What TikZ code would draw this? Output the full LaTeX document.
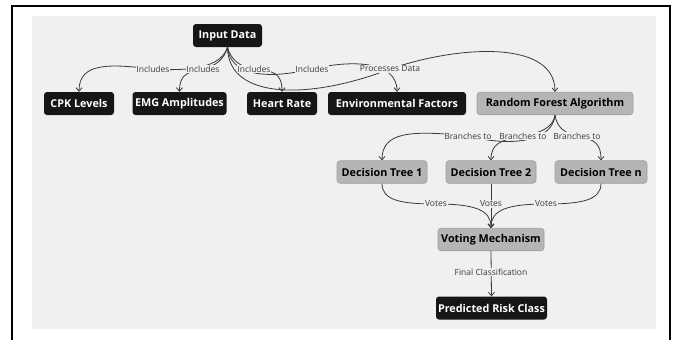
\documentclass[tikz,border=0pt]{standalone}
\usepackage{fontspec}
\setmainfont{Open Sans}
\usetikzlibrary{arrows.meta}
\definecolor{bg}{HTML}{F0F0F0}
\definecolor{darkfill}{HTML}{161616}
\definecolor{lightfill}{HTML}{B5B5B5}
\definecolor{lightbd}{HTML}{9E9E9E}
\definecolor{edgec}{HTML}{3A3A3A}
\begin{document}
\begin{tikzpicture}[x=1pt,y=-1pt,
  darkbox/.style={rectangle, rounded corners=3pt, fill=darkfill, text=white,
    font=\fontsize{10.8}{12}\selectfont\bfseries, minimum height=23pt, inner sep=0pt},
  lightbox/.style={rectangle, rounded corners=3pt, fill=lightfill, draw=lightbd,
    line width=0.6pt, text=black,
    font=\fontsize{10.8}{12}\selectfont\bfseries, minimum height=22.5pt, inner sep=0pt},
  edge/.style={draw=edgec, line width=0.8pt, -{Straight Barb[length=3.5pt,width=6pt]}},
  lbl/.style={fill=bg, inner sep=0.6pt, font=\fontsize{8.5}{10}\selectfont, text=edgec}]
\useasboundingbox (0,0) rectangle (675,340);
% frame and background
\draw[line width=2pt] (12,6) rectangle (670,360);
\fill[bg] (32,16) rectangle (656,329);

% nodes
\node[darkbox, minimum width=69pt]  (in)  at (227.5,35.5) {Input Data};
\node[darkbox, minimum width=70pt]  (cpk) at (79,103.5)   {CPK Levels};
\node[darkbox, minimum width=94pt]  (emg) at (179.5,103.5) {EMG Amplitudes};
\node[darkbox, minimum width=70pt]  (hr)  at (282,103.5)  {Heart Rate};
\node[darkbox, minimum width=138pt] (env) at (397,103.5)  {Environmental Factors};
\node[lightbox, minimum width=156pt] (rfa) at (555,103.5) {Random Forest Algorithm};
\node[lightbox, minimum width=90pt] (dt1) at (382,172)    {Decision Tree 1};
\node[lightbox, minimum width=90pt] (dt2) at (491,172)    {Decision Tree 2};
\node[lightbox, minimum width=92pt] (dtn) at (601,172)    {Decision Tree n};
\node[lightbox, minimum width=106pt] (vm) at (491,239.5)  {Voting Mechanism};
\node[darkbox, minimum width=111pt] (prc) at (491.5,308)  {Predicted Risk Class};

% label positions
\coordinate (l1) at (153,69);
\coordinate (l2) at (203,69);
\coordinate (l3) at (254,69);
\coordinate (l4) at (312,69);
\coordinate (l5) at (390,69);
\coordinate (b1) at (468,136);
\coordinate (b2) at (523,136);
\coordinate (b3) at (577,136);
\coordinate (v1) at (436,204);
\coordinate (v2) at (491,204);
\coordinate (v3) at (546,204);
\coordinate (fc) at (491,272);

% edges from Input Data
\draw[edge] (in.south) .. controls (222,64) and (200,72) .. (l1)
  .. controls (110,64) and (79,62) .. (cpk.north);
\draw[edge] (in.south) .. controls (224,60) and (215,66) .. (l2)
  .. controls (188,72) and (179.5,74) .. (emg.north);
\draw[edge] (in.south) .. controls (231,60) and (240,67) .. (l3)
  .. controls (272,71) and (282,72) .. (hr.north);
\draw[edge] (in.south) .. controls (230,75) and (265,80) .. (l4)
  .. controls (350,60) and (397,60) .. (env.north);
\draw[edge] (in.south) .. controls (228,100) and (310,100) .. (l5)
  .. controls (460,45) and (555,40) .. (rfa.north);

% branches
\draw[edge] (rfa.south) .. controls (553,140) and (515,148) .. (b1)
  .. controls (410,130) and (382,132) .. (dt1.north);
\draw[edge] (rfa.south) .. controls (553,128) and (540,133) .. (b2)
  .. controls (500,140) and (491,144) .. (dt2.north);
\draw[edge] (rfa.south) .. controls (557,128) and (565,133) .. (b3)
  .. controls (595,139) and (601,144) .. (dtn.north);

% votes
\draw[edge] (dt1.south) .. controls (382,200) and (400,204) .. (v1)
  .. controls (475,204) and (491,210) .. (vm.north);
\draw[edge] (dt2.south) -- (vm.north);
\draw[edge] (dtn.south) .. controls (601,200) and (582,204) .. (v3)
  .. controls (507,204) and (491,210) .. (vm.north);

% final
\draw[edge] (vm.south) -- (prc.north);

% labels
\node[lbl] at (l1) {Includes};
\node[lbl] at (l2) {Includes};
\node[lbl] at (l3) {Includes};
\node[lbl] at (l4) {Includes};
\node[lbl] at (l5) {Processes Data};
\node[lbl] at (b1) {Branches to};
\node[lbl] at (b2) {Branches to};
\node[lbl] at (b3) {Branches to};
\node[lbl] at (v1) {Votes};
\node[lbl] at (v2) {Votes};
\node[lbl] at (v3) {Votes};
\node[lbl] at (fc) {Final Classification};
\end{tikzpicture}
\end{document}
